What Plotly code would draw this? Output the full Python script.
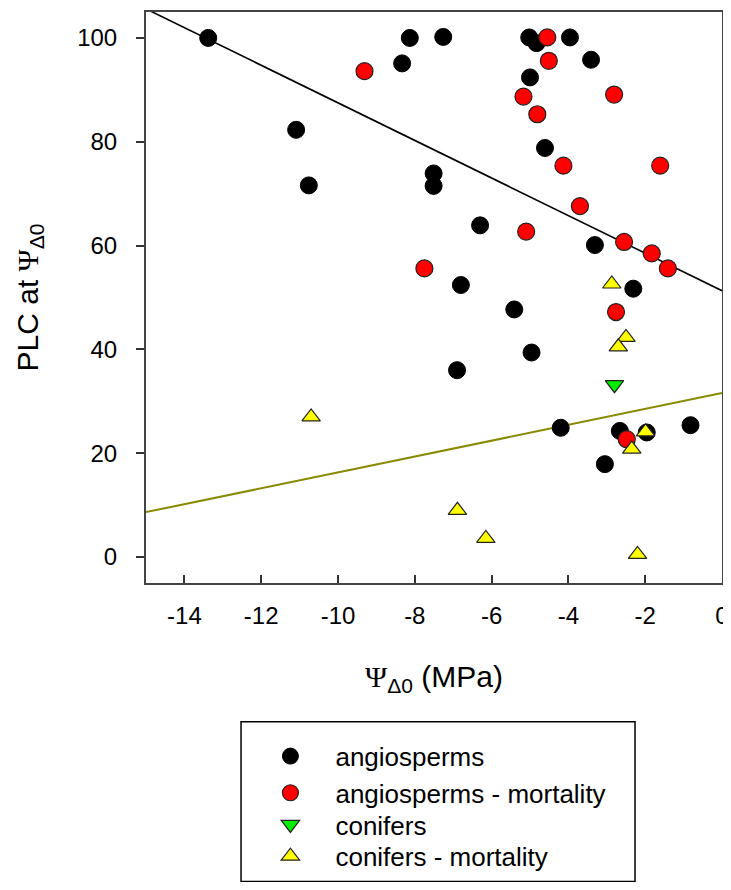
import plotly.graph_objects as go

# angiosperms (black circles)
ang_x = [-13.38, -11.09, -10.76, -8.13, -7.26, -8.33, -7.51, -7.51, -6.30, -6.80,
         -5.02, -4.83, -5.00, -4.61, -3.96, -3.41, -3.31, -2.31, -5.41, -4.96,
         -6.90, -4.20, -2.66, -1.96, -0.82, -3.05]
ang_y = [100.0, 82.3, 71.6, 100.0, 100.2, 95.1, 73.9, 71.5, 63.9, 52.4,
         100.1, 99.0, 92.4, 78.8, 100.1, 95.8, 60.1, 51.7, 47.7, 39.4,
         36.0, 24.9, 24.3, 24.0, 25.4, 17.9]

# angiosperms - mortality (red circles)
angm_x = [-9.31, -4.55, -4.51, -5.17, -4.81, -2.81, -4.13, -1.61, -3.70, -5.10,
          -2.55, -1.83, -1.41, -7.75, -2.76, -2.48]
angm_y = [93.6, 100.1, 95.6, 88.7, 85.3, 89.1, 75.4, 75.4, 67.6, 62.7,
          60.7, 58.5, 55.6, 55.6, 47.2, 22.7]

# conifers (green down triangle)
con_x = [-2.80]
con_y = [33.2]

# conifers - mortality (yellow up triangles)
conm_x = [-10.70, -6.89, -6.15, -2.20, -2.50, -2.70, -2.35, -1.99, -2.87]
conm_y = [27.0, 9.0, 3.6, 0.5, 42.3, 40.5, 20.8, 24.1, 52.6]

# regression lines (endpoints on the x range)
line_x = [-15, 0]
ang_fit_y = [105.6, 51.3]
con_fit_y = [8.65, 31.6]

x_ticks = [-14, -12, -10, -8, -6, -4, -2, 0]
y_ticks = [0, 20, 40, 60, 80, 100]

FONT = "Liberation Sans, Arial, sans-serif"
fig = go.Figure()

fig.add_trace(go.Scatter(x=line_x, y=ang_fit_y, mode="lines",
                         line=dict(color="black", width=1.6), showlegend=False,
                         hoverinfo="skip"))
fig.add_trace(go.Scatter(x=line_x, y=con_fit_y, mode="lines",
                         line=dict(color="#8a8a00", width=2), showlegend=False,
                         hoverinfo="skip"))

fig.add_trace(go.Scatter(x=ang_x, y=ang_y, mode="markers", name="angiosperms",
                         legend="legend",
                         marker=dict(symbol="circle", size=17, color="black",
                                     line=dict(color="black", width=1))))
fig.add_trace(go.Scatter(x=angm_x, y=angm_y, mode="markers", name="angiosperms - mortality",
                         legend="legend2",
                         marker=dict(symbol="circle", size=17, color="#ff0000",
                                     line=dict(color="#222222", width=1.2))))
fig.add_trace(go.Scatter(x=con_x, y=con_y, mode="markers", name="conifers",
                         legend="legend3",
                         marker=dict(symbol="triangle-down", size=16, color="#00ee00",
                                     line=dict(color="#222222", width=1.2))))
fig.add_trace(go.Scatter(x=conm_x, y=conm_y, mode="markers", name="conifers - mortality",
                         legend="legend4",
                         marker=dict(symbol="triangle-up", size=16, color="#ffff00",
                                     line=dict(color="#222222", width=1.2))))

# legend frame
fig.add_shape(type="rect", xref="paper", yref="paper",
              x0=0.165, x1=0.849, y0=-0.5226, y1=-0.243,
              line=dict(color="black", width=1.5), fillcolor="rgba(0,0,0,0)")

psi = '<span style="font-family:Liberation Serif, Times New Roman, serif">Ψ</span>'


def leg(ypos):
    return dict(x=0.1726, y=ypos, xanchor="left", yanchor="top",
                bgcolor="rgba(0,0,0,0)", borderwidth=0,
                font=dict(family=FONT, size=26, color="black"),
                itemwidth=80)


# the page body adds an 8px offset, so the figure is 8px smaller and margins shifted
fig.update_layout(
    width=723, height=874,
    margin=dict(l=138, r=9, t=2, b=296),
    paper_bgcolor="white", plot_bgcolor="white",
    font=dict(family=FONT, size=24, color="black"),
    showlegend=True,
    legend=leg(-0.2622),
    legend2=leg(-0.3264),
    legend3=leg(-0.3819),
    legend4=leg(-0.4375),
    xaxis=dict(range=[-15, 0], tickvals=x_ticks, ticktext=[str(v) for v in x_ticks],
               ticks="inside", ticklen=8, tickcolor="#333333", tickwidth=1.5,
               showline=True, linecolor="#444444", linewidth=2, mirror=True,
               showgrid=False, zeroline=False, ticklabelstandoff=10,
               tickfont=dict(size=24),
               title=dict(text=psi + "<sub>Δ0</sub> (MPa)", font=dict(size=30), standoff=38)),
    yaxis=dict(range=[-5, 105], tickvals=y_ticks, ticktext=[str(v) for v in y_ticks],
               ticks="outside", ticklen=8, tickcolor="#333333", tickwidth=1.5,
               showline=True, linecolor="#444444", linewidth=2, mirror=True,
               showgrid=False, zeroline=False, ticklabelstandoff=14,
               tickfont=dict(size=24),
               title=dict(text="PLC at " + psi + "<sub>Δ0</sub>", font=dict(size=30), standoff=30)),
    yaxis2=dict(range=[-5, 105], tickvals=y_ticks, overlaying="y", side="right",
                ticks="inside", ticklen=12, tickcolor="#333333", tickwidth=1.5,
                showticklabels=False, showline=False, showgrid=False, zeroline=False),
)

fig.write_html("out.html")
